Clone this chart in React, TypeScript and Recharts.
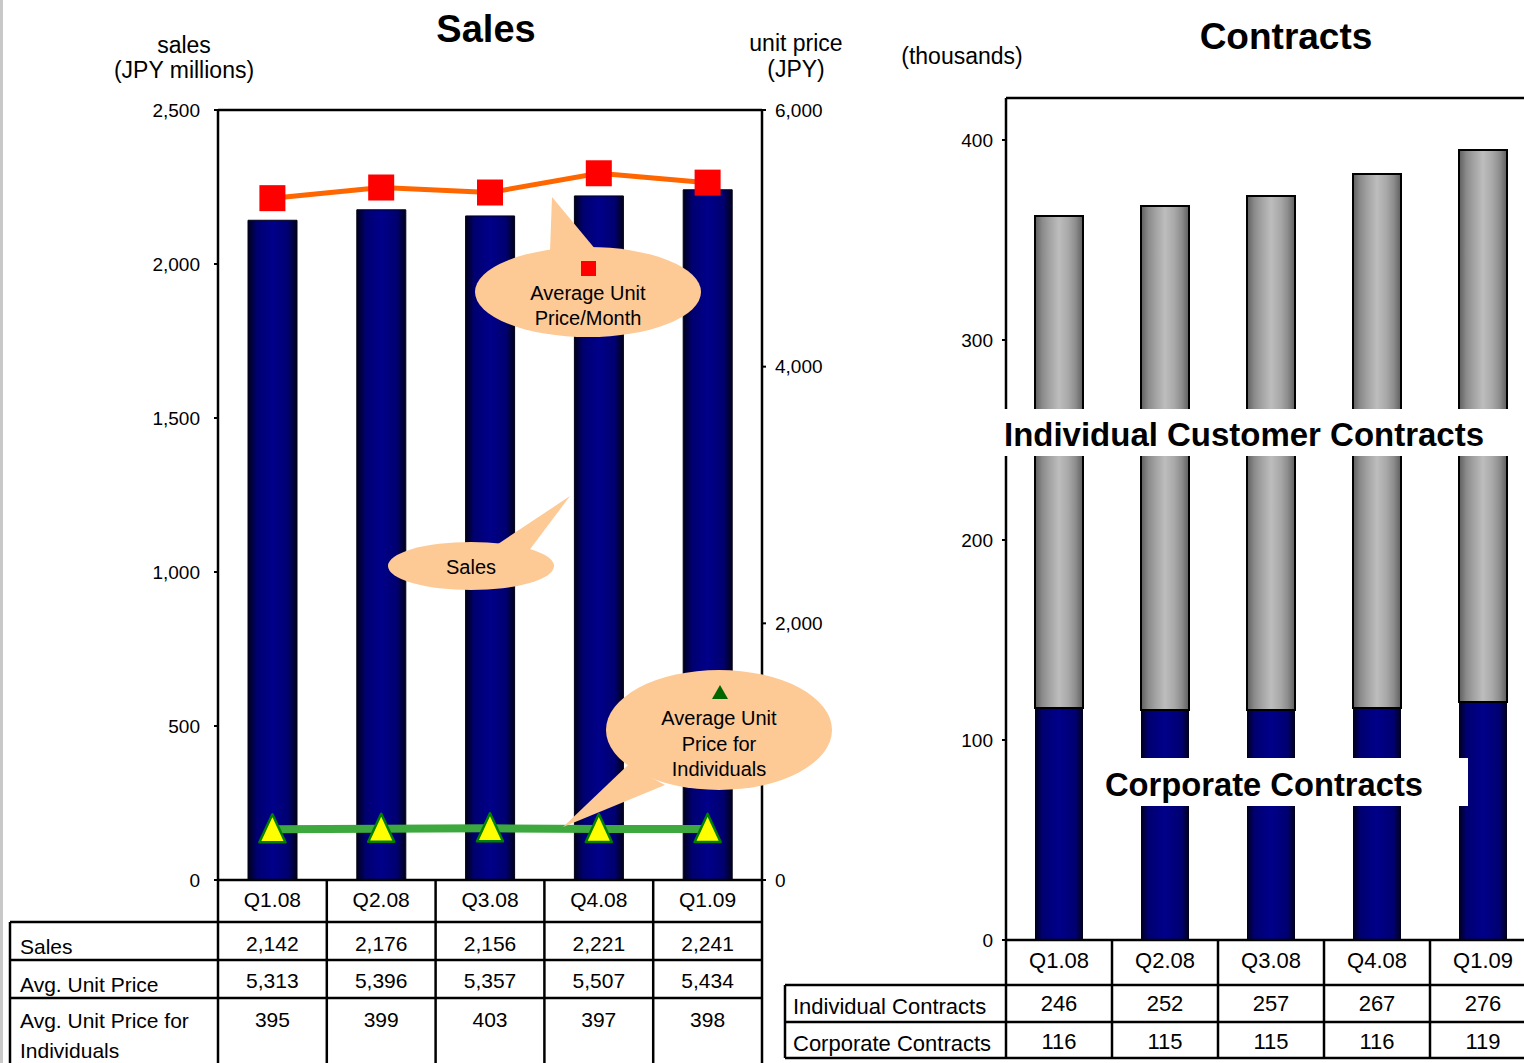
import React from "react";
import { ComposedChart, Bar, Line, XAxis, YAxis, ReferenceLine } from "recharts";

// values
const quarters = ["Q1.08", "Q2.08", "Q3.08", "Q4.08", "Q1.09"];
const sales = [2142, 2176, 2156, 2221, 2241];
const avgUnitPrice = [5313, 5396, 5357, 5507, 5434];
const avgUnitPriceIndiv = [395, 399, 403, 397, 398];
const individualContracts = [246, 252, 257, 267, 276];
const corporateContracts = [116, 115, 115, 116, 119];

const salesTicks = [0, 500, 1000, 1500, 2000, 2500];
const priceTicks = [0, 2000, 4000, 6000];
const contractTicks = [0, 100, 200, 300, 400];

const salesData = quarters.map((q, i) => ({
  q,
  sales: sales[i],
  price: avgUnitPrice[i],
  indiv: avgUnitPriceIndiv[i],
}));
const contractData = quarters.map((q, i) => ({
  q,
  corporate: corporateContracts[i],
  individual: individualContracts[i],
}));

const ARIAL = "'Liberation Sans', Arial, sans-serif";
const fmt = (v: number) => v.toLocaleString("en-US");

// layout of both plots (used for tables drawn under them)
const L_LEFT = 218;
const L_RIGHT = 762;
const L_BAND = (L_RIGHT - L_LEFT) / quarters.length;
const R_LEFT = 1006;
const R_BAND = 106;

const SquareDot = (props: any) => {
  const { cx, cy, index } = props;
  return <rect key={"sq" + index} x={cx - 13} y={cy - 13} width={26} height={26} fill="#ff0000" />;
};

const TriDot = (props: any) => {
  const { cx, cy, index } = props;
  return (
    <polygon
      key={"tri" + index}
      points={`${cx},${cy - 15} ${cx - 13},${cy + 13} ${cx + 13},${cy + 13}`}
      fill="#ffff00"
      stroke="#008000"
      strokeWidth={2.5}
      strokeLinejoin="round"
    />
  );
};

function Callout({ cx, cy, rx, ry, tip }: any) {
  return (
    <g fill="#fdc995">
      <polygon points={tip} />
      <ellipse cx={cx} cy={cy} rx={rx} ry={ry} />
    </g>
  );
}

function Overlay() {
  const lCenters = quarters.map((_, i) => L_LEFT + L_BAND * (i + 0.5));
  const rCenters = quarters.map((_, i) => R_LEFT + R_BAND * (i + 0.5));
  const lLines = quarters.map((_, i) => L_LEFT + L_BAND * (i + 1));
  const rLines = quarters.map((_, i) => R_LEFT + R_BAND * (i + 1));
  return (
    <svg
      width={1524}
      height={1063}
      style={{ position: "absolute", left: 0, top: 0, pointerEvents: "none" }}
    >
      {/* titles */}
      <text x={486} y={29} textAnchor="middle" dominantBaseline="central" fontFamily={ARIAL} fontWeight="bold" fontSize={38}>
        Sales
      </text>
      <text x={1286} y={36} textAnchor="middle" dominantBaseline="central" fontFamily={ARIAL} fontWeight="bold" fontSize={37}>
        Contracts
      </text>
      <g fontFamily={ARIAL} fontSize={23} textAnchor="middle" dominantBaseline="central">
        <text x={184} y={45}>sales</text>
        <text x={184} y={70}>(JPY millions)</text>
        <text x={796} y={43}>unit price</text>
        <text x={796} y={69}>(JPY)</text>
        <text x={962} y={56}>(thousands)</text>
      </g>

      {/* callouts */}
      <Callout cx={588} cy={292} rx={113} ry={45} tip="552,197 550,252 596,250" />
      <rect x={581} y={261} width={15} height={15} fill="#ff0000" />
      <Callout cx={471} cy={566} rx={83} ry={24} tip="570,496 492,548 528,552" />
      <Callout cx={719} cy={730} rx={113} ry={60} tip="563,827 628,765 665,785" />
      <polygon points="720,685 712,699 728,699" fill="#006600" />
      <g fontFamily={ARIAL} fontSize={20} textAnchor="middle" dominantBaseline="central">
        <text x={588} y={293}>Average Unit</text>
        <text x={588} y={318}>Price/Month</text>
        <text x={471} y={567}>Sales</text>
        <text x={719} y={718}>Average Unit</text>
        <text x={719} y={744}>Price for</text>
        <text x={719} y={769}>Individuals</text>
      </g>

      {/* series labels on the contracts chart */}
      <rect x={1002} y={409} width={508} height={47} fill="#fff" />
      <text x={1244} y={434} textAnchor="middle" dominantBaseline="central" fontFamily={ARIAL} fontWeight="bold" fontSize={34} textLength={480} lengthAdjust="spacingAndGlyphs">
        Individual Customer Contracts
      </text>
      <rect x={1098} y={758} width={370} height={48} fill="#fff" />
      <text x={1264} y={784} textAnchor="middle" dominantBaseline="central" fontFamily={ARIAL} fontWeight="bold" fontSize={34} textLength={318} lengthAdjust="spacingAndGlyphs">
        Corporate Contracts
      </text>

      {/* sales table */}
      <g stroke="#000" strokeWidth={2.5}>
        <line x1={10} y1={922} x2={L_RIGHT} y2={922} />
        <line x1={10} y1={960} x2={L_RIGHT} y2={960} />
        <line x1={10} y1={998} x2={L_RIGHT} y2={998} />
        <line x1={10} y1={922} x2={10} y2={1070} />
        <line x1={L_LEFT} y1={880} x2={L_LEFT} y2={1070} />
        {lLines.map((x, i) => (
          <line key={"lv" + i} x1={x} y1={880} x2={x} y2={1070} />
        ))}
      </g>
      <g fontFamily={ARIAL} fontSize={21} dominantBaseline="central">
        <text x={20} y={946}>Sales</text>
        <text x={20} y={984}>Avg. Unit Price</text>
        <text x={20} y={1020}>Avg. Unit Price for</text>
        <text x={20} y={1050}>Individuals</text>
        {lCenters.map((x, i) => (
          <g key={"lt" + i} textAnchor="middle">
            <text x={x} y={943}>{fmt(sales[i])}</text>
            <text x={x} y={980}>{fmt(avgUnitPrice[i])}</text>
            <text x={x} y={1019}>{fmt(avgUnitPriceIndiv[i])}</text>
          </g>
        ))}
      </g>

      {/* contracts table */}
      <g stroke="#000" strokeWidth={2.5}>
        <line x1={785} y1={985} x2={1530} y2={985} />
        <line x1={785} y1={1022} x2={1530} y2={1022} />
        <line x1={785} y1={1058} x2={1530} y2={1058} />
        <line x1={785} y1={985} x2={785} y2={1058} />
        <line x1={R_LEFT} y1={940} x2={R_LEFT} y2={1058} />
        {rLines.map((x, i) => (
          <line key={"rv" + i} x1={x} y1={940} x2={x} y2={1058} />
        ))}
      </g>
      <g fontFamily={ARIAL} fontSize={22} dominantBaseline="central">
        <text x={793} y={1006}>Individual Contracts</text>
        <text x={793} y={1043}>Corporate Contracts</text>
        {rCenters.map((x, i) => (
          <g key={"rt" + i} textAnchor="middle">
            <text x={x} y={1003}>{individualContracts[i]}</text>
            <text x={x} y={1041}>{corporateContracts[i]}</text>
          </g>
        ))}
      </g>
    </svg>
  );
}

export default function App() {
  return (
    <div
      style={{
        position: "absolute",
        left: 0,
        top: 0,
        width: 1524,
        height: 1063,
        overflow: "hidden",
        background: "#fff",
      }}
    >
      <div style={{ position: "absolute", left: 0, top: 0, width: 3, height: 1063, background: "#c8c8c8" }} />

      {/* Sales chart */}
      <div style={{ position: "absolute", left: 0, top: 0 }}>
        <ComposedChart
          width={860}
          height={922}
          data={salesData}
          margin={{ top: 110, right: 0, bottom: 0, left: 0 }}
          barCategoryGap={30}
        >
          <defs>
            <linearGradient id="navyGrad" x1="0" y1="0" x2="1" y2="0">
              <stop offset="0%" stopColor="#00001a" />
              <stop offset="18%" stopColor="#000070" />
              <stop offset="50%" stopColor="#00008a" />
              <stop offset="82%" stopColor="#000070" />
              <stop offset="100%" stopColor="#00001a" />
            </linearGradient>
          </defs>
          <XAxis
            dataKey="q"
            height={42}
            axisLine={{ stroke: "#000", strokeWidth: 2.5 }}
            tickLine={false}
            tickSize={0}
            tickMargin={12}
            tick={{ fontSize: 21, fill: "#000", fontFamily: ARIAL }}
            interval={0}
          />
          <YAxis
            yAxisId="left"
            width={218}
            domain={[0, 2500]}
            ticks={salesTicks}
            tickFormatter={fmt}
            axisLine={{ stroke: "#000", strokeWidth: 2.5 }}
            tickLine={{ stroke: "#000", strokeWidth: 2 }}
            tickSize={4}
            tickMargin={14}
            tick={{ fontSize: 19, fill: "#000", fontFamily: ARIAL }}
          />
          <YAxis
            yAxisId="right"
            orientation="right"
            width={98}
            domain={[0, 6000]}
            ticks={priceTicks}
            tickFormatter={fmt}
            axisLine={{ stroke: "#000", strokeWidth: 2.5 }}
            tickLine={{ stroke: "#000", strokeWidth: 2 }}
            tickSize={4}
            tickMargin={9}
            tick={{ fontSize: 19, fill: "#000", fontFamily: ARIAL, textAnchor: "start" }}
          />
          <ReferenceLine yAxisId="left" y={2500} stroke="#000" strokeWidth={2.5} />
          <Bar
            yAxisId="left"
            dataKey="sales"
            barSize={49}
            fill="url(#navyGrad)"
            stroke="#000018"
            strokeWidth={1}
            isAnimationActive={false}
          />
          <Line
            yAxisId="right"
            dataKey="price"
            stroke="#ff6600"
            strokeWidth={5}
            dot={SquareDot}
            activeDot={false}
            isAnimationActive={false}
          />
          <Line
            yAxisId="right"
            dataKey="indiv"
            stroke="#3da83d"
            strokeWidth={8}
            dot={TriDot}
            activeDot={false}
            isAnimationActive={false}
          />
        </ComposedChart>
      </div>

      {/* Contracts chart */}
      <div style={{ position: "absolute", left: 786, top: 0 }}>
        <ComposedChart
          width={760}
          height={985}
          data={contractData}
          margin={{ top: 98, right: 10, bottom: 0, left: 0 }}
        >
          <defs>
            <linearGradient id="navyGrad2" x1="0" y1="0" x2="1" y2="0">
              <stop offset="0%" stopColor="#00001a" />
              <stop offset="15%" stopColor="#000070" />
              <stop offset="50%" stopColor="#00008a" />
              <stop offset="85%" stopColor="#000070" />
              <stop offset="100%" stopColor="#00001a" />
            </linearGradient>
            <linearGradient id="grayGrad" x1="0" y1="0" x2="1" y2="0">
              <stop offset="0%" stopColor="#5e5e5e" />
              <stop offset="15%" stopColor="#8a8a8a" />
              <stop offset="30%" stopColor="#a2a2a2" />
              <stop offset="50%" stopColor="#bdbdbd" />
              <stop offset="70%" stopColor="#a8a8a8" />
              <stop offset="85%" stopColor="#8c8c8c" />
              <stop offset="100%" stopColor="#5e5e5e" />
            </linearGradient>
          </defs>
          <XAxis
            dataKey="q"
            height={45}
            axisLine={{ stroke: "#000", strokeWidth: 2.5 }}
            tickLine={false}
            tickSize={0}
            tickMargin={12}
            tick={{ fontSize: 22, fill: "#000", fontFamily: ARIAL }}
            interval={0}
          />
          <YAxis
            width={220}
            domain={[0, 421]}
            ticks={contractTicks}
            axisLine={{ stroke: "#000", strokeWidth: 2.5 }}
            tickLine={{ stroke: "#000", strokeWidth: 2 }}
            tickSize={4}
            tickMargin={9}
            tick={{ fontSize: 19, fill: "#000", fontFamily: ARIAL }}
          />
          <ReferenceLine y={421} stroke="#000" strokeWidth={2.5} />
          <Bar
            dataKey="corporate"
            stackId="c"
            barSize={48}
            fill="url(#navyGrad2)"
            isAnimationActive={false}
          />
          <Bar
            dataKey="individual"
            stackId="c"
            barSize={48}
            fill="url(#grayGrad)"
            stroke="#000"
            strokeWidth={2}
            isAnimationActive={false}
          />
        </ComposedChart>
      </div>

      <Overlay />
    </div>
  );
}
